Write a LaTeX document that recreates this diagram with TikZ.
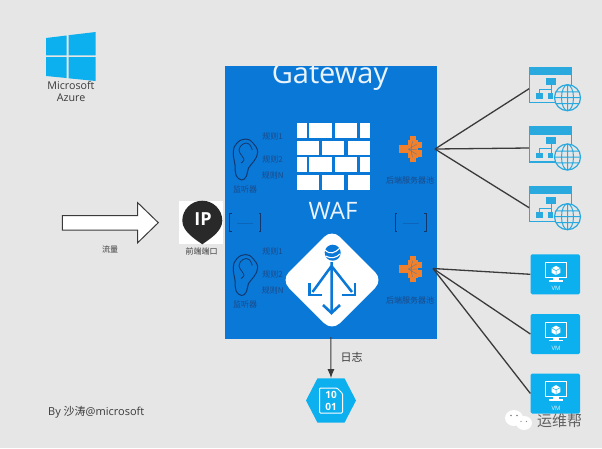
\documentclass[tikz,border=0pt]{standalone}
\usepackage{fontspec}
\setmainfont{Open Sans}
\newfontfamily\cjk{Noto Sans CJK SC}
\usetikzlibrary{arrows.meta}
\definecolor{bgc}{HTML}{E6E6E6}
\definecolor{azblue}{HTML}{0A78D7}
\definecolor{navy}{HTML}{12386E}
\definecolor{labelnavy}{HTML}{1B4A88}
\definecolor{sky}{HTML}{0DB0EE}
\definecolor{sitec}{HTML}{2AA9DE}
\definecolor{orng}{HTML}{F0802C}
\definecolor{ink}{HTML}{3A3A3A}
\newcommand\myfs[1]{\fontsize{#1}{#1}\selectfont}
\tikzset{
  label on blue/.style={text=labelnavy,inner sep=0pt,font=\cjk\myfs{8}},
  grey label/.style={text=ink,inner sep=0pt},
  link/.style={draw=ink,line width=1.3pt},
  earpic/.pic={
    \draw[navy,line width=1pt] plot[smooth cycle,tension=.75] coordinates
      {(.7,-20) (8,-16) (12.7,-7) (9,2) (3.5,9) (1.5,17) (-3.3,21) (-9,16) (-10,6) (-11.7,-7) (-8,-16)};
    \draw[navy,line width=.8pt] plot[smooth,tension=.8] coordinates
      {(7.3,-9) (4,-15) (-2,-15) (-6,-9) (-3,-3) (-1,1) (-4,4)};
  },
  bracketpic/.pic={
    \draw[navy,line width=.8pt] (-13.5,-9) -- (-15.5,-9) -- (-15.5,9) -- (-13.5,9);
    \draw[navy,line width=.8pt] (13.5,-9) -- (15.5,-9) -- (15.5,9) -- (13.5,9);
    \draw[azblue!70!navy,line width=.5pt] (-8,0) -- (8,0);
  },
  poolpic/.pic={
    \fill[orng] (-13,-4.5) rectangle (-3.5,4);
    \fill[orng] (-3.5,-9) -- (6,-9) -- (6,9) -- (-3.5,9) -- cycle;
    \fill[orng] (-1.5,-13.5) rectangle (4.5,-8);
    \fill[orng] (-1.5,8) rectangle (4.5,13);
    \fill[orng] (5.5,-7.5) rectangle (10.5,-1);
    \fill[orng] (5.5,1) rectangle (10.5,8);
    \draw[azblue!55!orng,line width=.5pt] (-3.5,0) -- (5,-5) (-3.5,0) -- (5,0) (-3.5,0) -- (5,5)
      (1,-8) .. controls (-1,-3) and (-1,3) .. (1,8);
  },
  sitepic/.pic={
    \draw[sitec,line width=1.1pt] (-25.2,-21.5) rectangle (17,14);
    \fill[sitec] (-26,-22) rectangle (17.5,-13.5);
    \fill[sitec] (-8.5,-11) rectangle (1.2,-4);
    \fill[sitec] (-19,4.6) rectangle (-11.6,10);
    \fill[sitec] (-7,4.6) rectangle (-1.6,10);
    \draw[sitec,line width=1pt] (-3.6,-4) -- (-3.6,0.5) (-15.3,4.6) -- (-15.3,0.5) -- (-3.6,0.5) -- (-3.6,4.6);
    \draw[sitec,line width=1.2pt,fill=bgc] (12.7,9) circle[radius=13];
    \draw[sitec,line width=1pt] (12.7,9) ellipse[x radius=6,y radius=13]
      (-.3,9) -- (25.7,9) (1,3.2) -- (24.4,3.2) (1,14.8) -- (24.4,14.8) (12.7,-4) -- (12.7,22);
  },
  vmpic/.pic={
    \fill[sky,rounded corners=1.5pt] (-24.7,-20) rectangle (24.7,20);
    \draw[white,line width=1pt] (-9.6,-12) rectangle (11,3);
    \fill[white] (-2,3) rectangle (3.5,5.5);
    \fill[white] (-6,5.5) rectangle (7.5,7.2);
    \fill[white] (.7,-8.4) -- (5,-6) -- (5,-1.4) -- (.7,.8) -- (-3.6,-1.4) -- (-3.6,-6) -- cycle;
    \draw[sky,line width=.5pt] (-3.6,-6) -- (.7,-3.6) -- (5,-6) (.7,-3.6) -- (.7,.8);
    \node[text=white!85!sky,inner sep=0pt,font=\myfs{6}] at (.7,14.5) {VM};
  },
}
\begin{document}
\begin{tikzpicture}[x=1pt,y=-1pt]
\useasboundingbox (0,0) rectangle (602,448);
\fill[bgc] (0,0) rectangle (602,448);

% Windows logo
\fill[sky] (46,38) -- (66.5,35.5) -- (66.5,55.3) -- (46,55.3) -- cycle;
\fill[sky] (68.5,35.2) -- (95.7,32) -- (95.7,55.3) -- (68.5,55.3) -- cycle;
\fill[sky] (46,57) -- (66.5,57) -- (66.5,78) -- (46,76) -- cycle;
\fill[sky] (68.5,57) -- (95.7,57) -- (95.7,81) -- (68.5,78.3) -- cycle;
\node[grey label,font=\myfs{10.7}] (msft) at (71,85.7) {Microsoft};
\node[grey label,font=\myfs{10.7}] (azure) at (71,98) {Azure};

% Traffic arrow
\draw[fill=white,draw=ink,line width=1pt] (62.3,215.7) -- (137.7,215.7) -- (137.7,202.7) -- (158.3,222.7) -- (137.7,242.7) -- (137.7,230) -- (62.3,230) -- cycle;
\node[grey label,font=\cjk\myfs{8}] (traffic) at (110,249) {流量};

% Gateway
\node[fill=azblue,inner sep=0pt,minimum width=212.5pt,minimum height=273pt] (gateway) at (330.75,202.5) {};
\begin{scope}
  \clip (224.5,66) rectangle (437,339);
  \node[text=white!92!azblue,inner sep=0pt,anchor=base,font=\myfs{29}] (gwtitle) at (330,83) {Gateway};
\end{scope}

% Wall
\foreach \ya/\yb in {123.3/137.7,157.3/172.3}{
  \fill[white] (297.3,\ya) rectangle (306.7,\yb);
  \fill[white] (309.3,\ya) rectangle (332,\yb);
  \fill[white] (334.7,\ya) rectangle (356.7,\yb);
  \fill[white] (359.7,\ya) rectangle (370,\yb);
}
\foreach \ya/\yb in {140.7/155,175/190}{
  \fill[white] (297.3,\ya) rectangle (318.7,\yb);
  \fill[white] (322.3,\ya) rectangle (344,\yb);
  \fill[white] (347.7,\ya) rectangle (370,\yb);
}
\node[text=white!92!azblue,inner sep=0pt,anchor=base,font=\myfs{24}] (waf) at (333,219.5) {WAF};

% Diamond
\fill[white,rounded corners=11pt] (332,229) -- (383,280) -- (332,331) -- (281,280) -- cycle;
\fill[azblue] (332.7,252.7) circle[radius=8];
\draw[white,line width=1.1pt] (325,250) .. controls (330,255) and (335,253) .. (340,248)
  (325.5,256) .. controls (331,259) and (336,258) .. (340,254);
\draw[azblue,line width=2.5pt] (331.5,262) -- (331.5,312) (331.5,266) -- (312.5,292) (331.5,266) -- (352,292);
\draw[azblue,line width=2.6pt,line join=miter] (323,305) -- (331.5,313) -- (340,305);
\draw[azblue,line width=2.6pt] (309.5,283) -- (309.5,295) -- (322,295);
\draw[azblue,line width=2.6pt] (355,283) -- (355,295) -- (342,295);

% Ears, labels, brackets, pools
\pic at (245,159) {earpic};
\pic at (245,274.5) {earpic};
\node[label on blue] (r11) at (272.7,136.7) {规则1};
\node[label on blue] (r12) at (272.7,159) {规则2};
\node[label on blue] (r1n) at (272.7,175.7) {规则N};
\node[label on blue] (r21) at (272.7,251.7) {规则1};
\node[label on blue] (r22) at (272.7,274) {规则2};
\node[label on blue] (r2n) at (272.7,290.7) {规则N};
\node[label on blue] (l1) at (245,189.3) {监听器};
\node[label on blue] (l2) at (245,304) {监听器};
\pic at (245.3,222.8) {bracketpic};
\pic at (410.5,222.8) {bracketpic};
\pic at (411.7,149.3) {poolpic};
\pic at (411.7,269) {poolpic};
\node[label on blue] (p1) at (410,180.7) {后端服务器池};
\node[label on blue] (p2) at (410,300) {后端服务器池};
\coordinate (hubA) at (435,149);
\coordinate (hubB) at (433,268.5);

% IP pin
\fill[white] (179,201) rectangle (223,244.3);
\fill[ink!70!black] (182.3,220.7) arc[start angle=180,end angle=360,radius=20] .. controls (222.3,232) and (208,240) .. (202.3,244.3) .. controls (196.6,240) and (182.3,232) .. (182.3,220.7) -- cycle;
\node[text=white,inner sep=0pt,font=\bfseries\myfs{18}] (ip) at (203,219.5) {IP};
\node[grey label,font=\cjk\myfs{8}] (port) at (201.7,251) {前端端口};

% Backend sites
\node[inner sep=0pt,minimum width=51pt,minimum height=44pt] (site1) at (554.8,88.7) {};
\node[inner sep=0pt,minimum width=51pt,minimum height=44pt] (site2) at (554.8,148) {};
\node[inner sep=0pt,minimum width=51pt,minimum height=44pt] (site3) at (554.8,207.7) {};
\pic at (554.8,88.7) {sitepic};
\pic at (554.8,148) {sitepic};
\pic at (554.8,207.7) {sitepic};
\draw[link] (hubA) -- (site1.west);
\draw[link] (hubA) -- (site2.west);
\draw[link] (hubA) -- (site3.west);

% Backend VMs
\node[inner sep=0pt,minimum width=49.4pt,minimum height=40pt] (vm1) at (555.3,274.3) {};
\node[inner sep=0pt,minimum width=49.4pt,minimum height=40pt] (vm2) at (555.3,334) {};
\node[inner sep=0pt,minimum width=49.4pt,minimum height=40pt] (vm3) at (555.3,393.5) {};
\pic at (555.3,274.3) {vmpic};
\pic at (555.3,334) {vmpic};
\pic at (555.3,393.5) {vmpic};
\draw[link] (hubB) -- (vm1.west);
\draw[link] (hubB) -- (vm2.west);
\draw[link] (hubB) -- (vm3.west);

% Log storage
\node[inner sep=0pt,minimum width=50pt,minimum height=44.4pt] (store) at (331,400.5) {};
\fill[sky] (306,400.5) -- (317.5,378.3) -- (344.5,378.3) -- (356,400.5) -- (344.5,422.7) -- (317.5,422.7) -- cycle;
\draw[white,line width=1pt,rounded corners=1pt] (319.5,388) -- (337,388) -- (342.5,393.5) -- (342.5,413) -- (319.5,413) -- cycle;
\node[text=white,inner sep=0pt,font=\bfseries\myfs{10},align=center] (bits) at (331,401) {10\\[1.5pt]01};
\draw[draw=ink,line width=1pt,-{Latex[length=9pt,width=7pt]}] ([yshift=2pt]gateway.south) -- (store.north);
\node[grey label,font=\cjk\myfs{11}] (log) at (351.7,357.7) {日志};

% Author and watermark
\node[grey label,anchor=west,font=\myfs{11}] (by) at (48,412) {By {\cjk 沙涛}@microsoft};
\fill[white] (514,418) ellipse[x radius=9,y radius=8];
\fill[white] (524,423) ellipse[x radius=8,y radius=7];
\fill[gray] (511,415.5) circle[radius=.8] (517,415.5) circle[radius=.8] (521,421.5) circle[radius=.6] (526.5,421.5) circle[radius=.6];
\node[inner sep=0pt,text=ink!80,font=\cjk\myfs{15}] (wm) at (559.5,421) {运维帮};
\end{tikzpicture}
\end{document}
